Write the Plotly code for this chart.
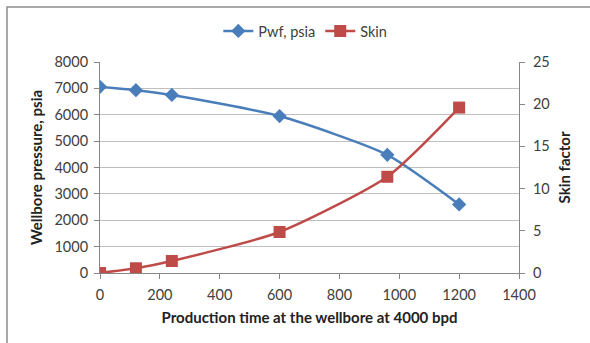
import plotly.graph_objects as go

time_x = [0, 120, 240, 600, 960, 1200]
pwf = [7060, 6930, 6750, 5950, 4480, 2600]
skin = [0, 0.56, 1.42, 4.86, 11.4, 19.6]

FONT = "Lato"
W, H = 590, 343
L, R, T, B = 100, 71, 62, 70
pw, ph = W - L - R, H - T - B

fig = go.Figure()
fig.add_trace(go.Scatter(
    x=time_x, y=pwf, name="Pwf, psia", mode="lines+markers",
    line=dict(color="#4a7ebb", width=2.5, shape="spline", smoothing=0.6),
    marker=dict(symbol="diamond", size=11, color="#4a7ebb"),
    yaxis="y"))
fig.add_trace(go.Scatter(
    x=time_x, y=skin, name="Skin", mode="lines+markers",
    line=dict(color="#be4b48", width=2.5, shape="spline", smoothing=0.6),
    marker=dict(symbol="square", size=12, color="#be4b48"),
    yaxis="y2"))

axis_common = dict(showline=True, linecolor="#868686", linewidth=1,
                   ticks="outside", ticklen=5, tickcolor="#868686",
                   tickfont=dict(family=FONT, size=14.5, color="#404040"),
                   zeroline=False)

fig.update_layout(
    width=W, height=H,
    margin=dict(l=L, r=R, t=T, b=B),
    paper_bgcolor="white", plot_bgcolor="white",
    font=dict(family=FONT, size=14, color="#404040"),
    xaxis=dict(range=[0, 1400], dtick=200, showgrid=False, ticklabelstandoff=4,
               title=dict(text="<b>Production time at the wellbore at 4000 bpd</b>",
                          font=dict(family=FONT, size=15, color="#222"), standoff=10),
               **axis_common),
    yaxis=dict(range=[0, 8000], dtick=1000, showgrid=True, gridcolor="#bfbfbf",
               ticklabelstandoff=3,
               title=dict(text="<b>Wellbore pressure, psia</b>",
                          font=dict(family=FONT, size=15, color="#222"), standoff=8),
               **axis_common),
    yaxis2=dict(range=[0, 25], dtick=5, overlaying="y", side="right", showgrid=False,
                ticklabelstandoff=5,
                title=dict(text="<b>Skin factor</b>",
                           font=dict(family=FONT, size=15, color="#222"), standoff=10),
                **axis_common),
    legend=dict(orientation="h", x=0.49, xanchor="center", y=1 + (T - 31) / ph,
                yanchor="middle", font=dict(family=FONT, size=14.5, color="#404040"),
                bgcolor="rgba(0,0,0,0)"),
    showlegend=True,
)

fig.add_shape(type="rect", xref="paper", yref="paper",
              x0=(7 - L) / pw, x1=(W + 20 - L) / pw,
              y0=-(H + 20 - T - ph) / ph, y1=1 + (T - 7) / ph,
              line=dict(color="#8c8c8c", width=1.5), layer="below")

fig.write_html("out.html")
